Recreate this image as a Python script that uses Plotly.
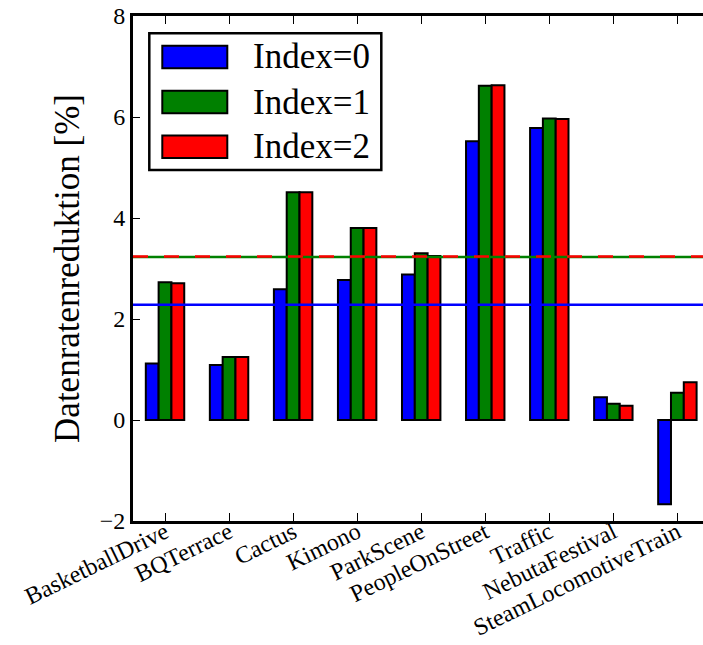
import plotly.graph_objects as go

# Test sequences and the data-rate reduction per index setting (percent)
sequences = ["BasketballDrive", "BQTerrace", "Cactus", "Kimono", "ParkScene",
             "PeopleOnStreet", "Traffic", "NebutaFestival", "SteamLocomotiveTrain"]
index0 = [1.12, 1.09, 2.59, 2.77, 2.88, 5.52, 5.78, 0.45, -1.67]
index1 = [2.73, 1.25, 4.51, 3.80, 3.30, 6.62, 5.97, 0.32, 0.54]
index2 = [2.71, 1.25, 4.51, 3.80, 3.25, 6.63, 5.96, 0.28, 0.75]
series_names = ["Index=0", "Index=1", "Index=2"]
y_ticks = [-2, 0, 2, 4, 6, 8]

series_values = [index0, index1, index2]
colors = ["#0000ff", "#008000", "#ff0000"]
mean_dash = ["solid", "solid", "15px,16px"]

W, H = 703, 645
L, R, T, B = 133, 0, 16, 124
PLOT_W, PLOT_H = W - L - R, H - T - B
SERIF = "Liberation Serif, Times New Roman, serif"


def px(x):
    return (x - L) / PLOT_W


def py(y):
    return (H - B - y) / PLOT_H


fig = go.Figure()
for name, vals, col in zip(series_names, series_values, colors):
    fig.add_trace(go.Bar(
        x=sequences, y=vals, name=name,
        marker=dict(color=col, line=dict(color="black", width=2)),
        showlegend=False,
    ))

shapes = []
# mean reduction of each series as a horizontal reference line
for vals, col, dash in zip(series_values, colors, mean_dash):
    mean = sum(vals) / len(vals)
    shapes.append(dict(type="line", xref="paper", yref="y", x0=0, x1=1,
                       y0=mean, y1=mean, line=dict(color=col, width=2.5, dash=dash)))

# legend box with large colour patches
shapes.append(dict(type="rect", xref="paper", yref="paper",
                   x0=px(149.3), x1=px(381.3), y0=py(170), y1=py(33.3),
                   fillcolor="white", line=dict(color="black", width=2.5)))
annotations = []
centers = [57, 102, 146.7]
for name, col, cy in zip(series_names, colors, centers):
    shapes.append(dict(type="rect", xref="paper", yref="paper",
                       x0=px(162.3), x1=px(227.3), y0=py(cy + 11.3), y1=py(cy - 11.3),
                       fillcolor=col, line=dict(color="black", width=2)))
    annotations.append(dict(xref="paper", yref="paper", x=px(251), y=py(cy),
                            text=name, showarrow=False, xanchor="left", yanchor="middle",
                            font=dict(family=SERIF, size=35, color="black")))

fig.update_layout(
    width=W, height=H,
    margin=dict(l=L, r=R, t=T, b=B, pad=0, autoexpand=False),
    paper_bgcolor="white", plot_bgcolor="white",
    barmode="group", bargap=0.4, bargroupgap=0,
    shapes=shapes, annotations=annotations,
    showlegend=False,
    xaxis=dict(
        type="category", range=[-0.5, 8.4], automargin=False,
        showline=True, linecolor="black", linewidth=3, mirror="ticks",
        ticks="inside", ticklen=8, tickwidth=1.2, tickcolor="black",
        tickangle=-26, ticklabelstandoff=-15, showgrid=False, zeroline=False,
        tickfont=dict(family=SERIF, size=24, color="black"),
    ),
    yaxis=dict(
        range=[-2, 8], tickvals=y_ticks, automargin=False,
        showline=True, linecolor="black", linewidth=3, mirror=False,
        ticks="inside", ticklen=7, tickwidth=1.2, tickcolor="black",
        showgrid=False, zeroline=False,
        tickfont=dict(family=SERIF, size=24, color="black"),
        title=dict(text="Datenratenreduktion [%]", standoff=10,
                   font=dict(family=SERIF, size=35, color="black")),
    ),
    yaxis2=dict(
        overlaying="y", side="right", range=[-2, 8], tickvals=y_ticks,
        showticklabels=False, showline=False, showgrid=False, zeroline=False,
        ticks="inside", ticklen=4, tickwidth=1.2, tickcolor="black",
    ),
)

fig.write_html("out.html")
